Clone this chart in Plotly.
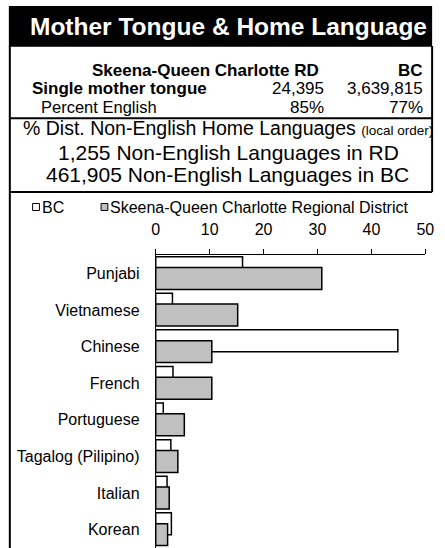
import plotly.graph_objects as go

# ---------------- data ----------------
title_text = "Mother Tongue & Home Language"
area_short = "Skeena-Queen Charlotte RD"
area_long = "Skeena-Queen Charlotte Regional District"
province = "BC"
single_mt_area = "24,395"
single_mt_bc = "3,639,815"
pct_english_area = "85%"
pct_english_bc = "77%"
nonenglish_area = "1,255"
nonenglish_bc = "461,905"

languages = ["Punjabi", "Vietnamese", "Chinese", "French", "Portuguese",
             "Tagalog (Pilipino)", "Italian", "Korean"]
bc_pct = [16.1, 3.1, 44.9, 3.2, 1.4, 2.8, 2.1, 2.9]
rd_pct = [30.8, 15.2, 10.4, 10.4, 5.3, 4.1, 2.5, 2.2]
x_ticks = [0, 10, 20, 30, 40, 50]

# ---------------- layout helpers ----------------
W, H = 445, 548
FONT = "Liberation Sans, Arial, sans-serif"


def X(p):
    return p / W


def Y(p):
    return 1 - p / H


fig = go.Figure()
fig.add_bar(y=languages, x=bc_pct, orientation="h", name=province,
            marker=dict(color="white", line=dict(color="black", width=1.5)),
            width=0.6, offset=-0.455, showlegend=False)
fig.add_bar(y=languages, x=rd_pct, orientation="h", name=area_long,
            marker=dict(color="#c0c0c0", line=dict(color="black", width=1.5)),
            width=0.6, offset=-0.16, showlegend=False)

shapes = [
    dict(type="rect", xref="paper", yref="paper", x0=X(5), x1=X(441), y0=Y(46.7), y1=Y(6),
         fillcolor="black", line=dict(width=0)),
    dict(type="line", xref="paper", yref="paper", x0=X(6), x1=X(6), y0=Y(46), y1=Y(548),
         line=dict(color="black", width=2)),
    dict(type="line", xref="paper", yref="paper", x0=X(441), x1=X(441), y0=Y(46), y1=Y(192),
         line=dict(color="black", width=2)),
    dict(type="line", xref="paper", yref="paper", x0=X(6), x1=X(441), y0=Y(118.3), y1=Y(118.3),
         line=dict(color="black", width=2)),
    dict(type="line", xref="paper", yref="paper", x0=X(6), x1=X(441), y0=Y(192), y1=Y(192),
         line=dict(color="black", width=2)),
    # legend swatches
    dict(type="rect", xref="paper", yref="paper", x0=X(29.5), x1=X(36.5), y0=Y(210.5), y1=Y(203.5),
         fillcolor="white", line=dict(color="black", width=1)),
    dict(type="rect", xref="paper", yref="paper", x0=X(100), x1=X(107), y0=Y(210.5), y1=Y(203.5),
         fillcolor="#c0c0c0", line=dict(color="black", width=1)),
]


def ann(text, x, y, size, anchor="center", color="black", weight="normal"):
    return dict(text=text, x=X(x), y=Y(y), xref="paper", yref="paper",
                xanchor=anchor, yanchor="middle", showarrow=False,
                font=dict(family=FONT, size=size, color=color, weight=weight))


annotations = [
    ann(title_text, 231, 26, 24.5, color="white", weight="bold"),
    ann(area_short, 327, 70, 17, anchor="right", weight="bold"),
    ann(province, 434, 70, 17, anchor="right", weight="bold"),
    ann("Single mother tongue", 27, 88, 17, anchor="left", weight="bold"),
    ann(single_mt_area, 332, 88, 17, anchor="right"),
    ann(single_mt_bc, 434, 88, 17, anchor="right"),
    ann("Percent English", 36, 107, 16.5, anchor="left"),
    ann(pct_english_area, 332, 107, 17, anchor="right"),
    ann(pct_english_bc, 434, 107, 17, anchor="right"),
    ann("% Dist. Non-English Home Languages <span style='font-size:13.5px'>(local order)</span>",
        231, 128, 19.5),
    ann(f"{nonenglish_area} Non-English Languages in RD", 231, 153, 21),
    ann(f"{nonenglish_bc} Non-English Languages in BC", 230, 175, 21),
    ann(province, 37, 207, 16, anchor="left"),
    ann(area_long, 107.5, 207, 16, anchor="left"),
]

fig.update_layout(
    width=W, height=H, autosize=False,
    margin=dict(l=0, r=0, t=0, b=0),
    paper_bgcolor="white", plot_bgcolor="white",
    barmode="overlay",
    font=dict(family=FONT, size=16, color="black"),
    shapes=shapes, annotations=annotations,
    xaxis=dict(domain=[X(156.3), X(434)], side="top", range=[0, 50], tickvals=x_ticks,
               ticks="outside", ticklen=5, tickwidth=1, tickcolor="black",
               showline=True, linecolor="black", linewidth=1,
               showgrid=False, zeroline=False, ticklabelstandoff=8,
               tickfont=dict(size=16)),
    yaxis=dict(domain=[Y(547.8), Y(255)], range=[7.5, -0.5], type="category",
               showline=True, linecolor="black", linewidth=1,
               showgrid=False, zeroline=False, ticks="", ticklabelstandoff=12,
               tickfont=dict(size=16)),
)

fig.write_html("out.html", config={"displayModeBar": False},
               post_script="document.body.style.margin='0';document.body.style.overflow='hidden';")
